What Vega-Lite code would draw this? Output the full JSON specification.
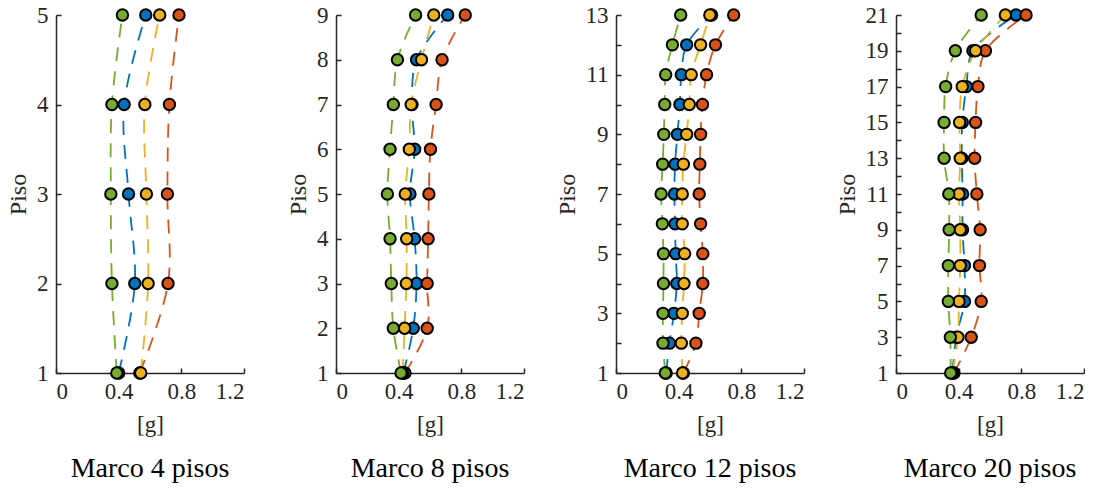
{
  "$schema": "https://vega.github.io/schema/vega-lite/v6.json",
  "background": "white",
  "padding": {"left": 6, "top": 4, "right": 0, "bottom": 0},
  "bounds": "flush",
  "spacing": 92,
  "config": {
    "view": {"stroke": null},
    "title": {"font": "Liberation Serif", "fontSize": 28, "fontWeight": "normal", "color": "black", "orient": "bottom", "offset": 19}
  },
  "data": {"values": [
    {"p": 4, "s": "s1", "piso": 1, "g": 0.40},
    {"p": 4, "s": "s1", "piso": 2, "g": 0.503},
    {"p": 4, "s": "s1", "piso": 3, "g": 0.463},
    {"p": 4, "s": "s1", "piso": 4, "g": 0.435},
    {"p": 4, "s": "s1", "piso": 5, "g": 0.573},
    {"p": 4, "s": "s2", "piso": 1, "g": 0.535},
    {"p": 4, "s": "s2", "piso": 2, "g": 0.715},
    {"p": 4, "s": "s2", "piso": 3, "g": 0.711},
    {"p": 4, "s": "s2", "piso": 4, "g": 0.724},
    {"p": 4, "s": "s2", "piso": 5, "g": 0.785},
    {"p": 4, "s": "s3", "piso": 1, "g": 0.541},
    {"p": 4, "s": "s3", "piso": 2, "g": 0.588},
    {"p": 4, "s": "s3", "piso": 3, "g": 0.577},
    {"p": 4, "s": "s3", "piso": 4, "g": 0.567},
    {"p": 4, "s": "s3", "piso": 5, "g": 0.662},
    {"p": 4, "s": "s4", "piso": 1, "g": 0.388},
    {"p": 4, "s": "s4", "piso": 2, "g": 0.357},
    {"p": 4, "s": "s4", "piso": 3, "g": 0.350},
    {"p": 4, "s": "s4", "piso": 4, "g": 0.357},
    {"p": 4, "s": "s4", "piso": 5, "g": 0.424},

    {"p": 8, "s": "s1", "piso": 1, "g": 0.43},
    {"p": 8, "s": "s1", "piso": 2, "g": 0.493},
    {"p": 8, "s": "s1", "piso": 3, "g": 0.514},
    {"p": 8, "s": "s1", "piso": 4, "g": 0.502},
    {"p": 8, "s": "s1", "piso": 5, "g": 0.472},
    {"p": 8, "s": "s1", "piso": 6, "g": 0.502},
    {"p": 8, "s": "s1", "piso": 7, "g": 0.485},
    {"p": 8, "s": "s1", "piso": 8, "g": 0.514},
    {"p": 8, "s": "s1", "piso": 9, "g": 0.713},
    {"p": 8, "s": "s2", "piso": 1, "g": 0.44},
    {"p": 8, "s": "s2", "piso": 2, "g": 0.582},
    {"p": 8, "s": "s2", "piso": 3, "g": 0.582},
    {"p": 8, "s": "s2", "piso": 4, "g": 0.588},
    {"p": 8, "s": "s2", "piso": 5, "g": 0.593},
    {"p": 8, "s": "s2", "piso": 6, "g": 0.603},
    {"p": 8, "s": "s2", "piso": 7, "g": 0.639},
    {"p": 8, "s": "s2", "piso": 8, "g": 0.677},
    {"p": 8, "s": "s2", "piso": 9, "g": 0.825},
    {"p": 8, "s": "s3", "piso": 1, "g": 0.425},
    {"p": 8, "s": "s3", "piso": 2, "g": 0.438},
    {"p": 8, "s": "s3", "piso": 3, "g": 0.449},
    {"p": 8, "s": "s3", "piso": 4, "g": 0.451},
    {"p": 8, "s": "s3", "piso": 5, "g": 0.442},
    {"p": 8, "s": "s3", "piso": 6, "g": 0.468},
    {"p": 8, "s": "s3", "piso": 7, "g": 0.480},
    {"p": 8, "s": "s3", "piso": 8, "g": 0.546},
    {"p": 8, "s": "s3", "piso": 9, "g": 0.624},
    {"p": 8, "s": "s4", "piso": 1, "g": 0.415},
    {"p": 8, "s": "s4", "piso": 2, "g": 0.366},
    {"p": 8, "s": "s4", "piso": 3, "g": 0.353},
    {"p": 8, "s": "s4", "piso": 4, "g": 0.345},
    {"p": 8, "s": "s4", "piso": 5, "g": 0.328},
    {"p": 8, "s": "s4", "piso": 6, "g": 0.345},
    {"p": 8, "s": "s4", "piso": 7, "g": 0.366},
    {"p": 8, "s": "s4", "piso": 8, "g": 0.392},
    {"p": 8, "s": "s4", "piso": 9, "g": 0.508},

    {"p": 12, "s": "s1", "piso": 1, "g": 0.32},
    {"p": 12, "s": "s1", "piso": 2, "g": 0.341},
    {"p": 12, "s": "s1", "piso": 3, "g": 0.370},
    {"p": 12, "s": "s1", "piso": 4, "g": 0.388},
    {"p": 12, "s": "s1", "piso": 5, "g": 0.381},
    {"p": 12, "s": "s1", "piso": 6, "g": 0.377},
    {"p": 12, "s": "s1", "piso": 7, "g": 0.373},
    {"p": 12, "s": "s1", "piso": 8, "g": 0.377},
    {"p": 12, "s": "s1", "piso": 9, "g": 0.392},
    {"p": 12, "s": "s1", "piso": 10, "g": 0.408},
    {"p": 12, "s": "s1", "piso": 11, "g": 0.417},
    {"p": 12, "s": "s1", "piso": 12, "g": 0.451},
    {"p": 12, "s": "s1", "piso": 13, "g": 0.61},
    {"p": 12, "s": "s2", "piso": 1, "g": 0.43},
    {"p": 12, "s": "s2", "piso": 2, "g": 0.510},
    {"p": 12, "s": "s2", "piso": 3, "g": 0.531},
    {"p": 12, "s": "s2", "piso": 4, "g": 0.554},
    {"p": 12, "s": "s2", "piso": 5, "g": 0.554},
    {"p": 12, "s": "s2", "piso": 6, "g": 0.540},
    {"p": 12, "s": "s2", "piso": 7, "g": 0.531},
    {"p": 12, "s": "s2", "piso": 8, "g": 0.535},
    {"p": 12, "s": "s2", "piso": 9, "g": 0.540},
    {"p": 12, "s": "s2", "piso": 10, "g": 0.552},
    {"p": 12, "s": "s2", "piso": 11, "g": 0.578},
    {"p": 12, "s": "s2", "piso": 12, "g": 0.635},
    {"p": 12, "s": "s2", "piso": 13, "g": 0.751},
    {"p": 12, "s": "s3", "piso": 1, "g": 0.425},
    {"p": 12, "s": "s3", "piso": 2, "g": 0.417},
    {"p": 12, "s": "s3", "piso": 3, "g": 0.423},
    {"p": 12, "s": "s3", "piso": 4, "g": 0.434},
    {"p": 12, "s": "s3", "piso": 5, "g": 0.438},
    {"p": 12, "s": "s3", "piso": 6, "g": 0.423},
    {"p": 12, "s": "s3", "piso": 7, "g": 0.423},
    {"p": 12, "s": "s3", "piso": 8, "g": 0.430},
    {"p": 12, "s": "s3", "piso": 9, "g": 0.451},
    {"p": 12, "s": "s3", "piso": 10, "g": 0.468},
    {"p": 12, "s": "s3", "piso": 11, "g": 0.480},
    {"p": 12, "s": "s3", "piso": 12, "g": 0.540},
    {"p": 12, "s": "s3", "piso": 13, "g": 0.599},
    {"p": 12, "s": "s4", "piso": 1, "g": 0.315},
    {"p": 12, "s": "s4", "piso": 2, "g": 0.300},
    {"p": 12, "s": "s4", "piso": 3, "g": 0.300},
    {"p": 12, "s": "s4", "piso": 4, "g": 0.303},
    {"p": 12, "s": "s4", "piso": 5, "g": 0.303},
    {"p": 12, "s": "s4", "piso": 6, "g": 0.296},
    {"p": 12, "s": "s4", "piso": 7, "g": 0.288},
    {"p": 12, "s": "s4", "piso": 8, "g": 0.298},
    {"p": 12, "s": "s4", "piso": 9, "g": 0.305},
    {"p": 12, "s": "s4", "piso": 10, "g": 0.311},
    {"p": 12, "s": "s4", "piso": 11, "g": 0.317},
    {"p": 12, "s": "s4", "piso": 12, "g": 0.360},
    {"p": 12, "s": "s4", "piso": 13, "g": 0.413},

    {"p": 20, "s": "s1", "piso": 1, "g": 0.36},
    {"p": 20, "s": "s1", "piso": 3, "g": 0.385},
    {"p": 20, "s": "s1", "piso": 5, "g": 0.437},
    {"p": 20, "s": "s1", "piso": 7, "g": 0.437},
    {"p": 20, "s": "s1", "piso": 9, "g": 0.425},
    {"p": 20, "s": "s1", "piso": 11, "g": 0.425},
    {"p": 20, "s": "s1", "piso": 13, "g": 0.42},
    {"p": 20, "s": "s1", "piso": 15, "g": 0.423},
    {"p": 20, "s": "s1", "piso": 17, "g": 0.449},
    {"p": 20, "s": "s1", "piso": 19, "g": 0.491},
    {"p": 20, "s": "s1", "piso": 21, "g": 0.766},
    {"p": 20, "s": "s2", "piso": 1, "g": 0.37},
    {"p": 20, "s": "s2", "piso": 3, "g": 0.480},
    {"p": 20, "s": "s2", "piso": 5, "g": 0.544},
    {"p": 20, "s": "s2", "piso": 7, "g": 0.533},
    {"p": 20, "s": "s2", "piso": 9, "g": 0.537},
    {"p": 20, "s": "s2", "piso": 11, "g": 0.516},
    {"p": 20, "s": "s2", "piso": 13, "g": 0.502},
    {"p": 20, "s": "s2", "piso": 15, "g": 0.508},
    {"p": 20, "s": "s2", "piso": 17, "g": 0.523},
    {"p": 20, "s": "s2", "piso": 19, "g": 0.571},
    {"p": 20, "s": "s2", "piso": 21, "g": 0.830},
    {"p": 20, "s": "s3", "piso": 1, "g": 0.36},
    {"p": 20, "s": "s3", "piso": 3, "g": 0.395},
    {"p": 20, "s": "s3", "piso": 5, "g": 0.402},
    {"p": 20, "s": "s3", "piso": 7, "g": 0.410},
    {"p": 20, "s": "s3", "piso": 9, "g": 0.410},
    {"p": 20, "s": "s3", "piso": 11, "g": 0.402},
    {"p": 20, "s": "s3", "piso": 13, "g": 0.410},
    {"p": 20, "s": "s3", "piso": 15, "g": 0.406},
    {"p": 20, "s": "s3", "piso": 17, "g": 0.423},
    {"p": 20, "s": "s3", "piso": 19, "g": 0.508},
    {"p": 20, "s": "s3", "piso": 21, "g": 0.698},
    {"p": 20, "s": "s4", "piso": 1, "g": 0.349},
    {"p": 20, "s": "s4", "piso": 3, "g": 0.347},
    {"p": 20, "s": "s4", "piso": 5, "g": 0.334},
    {"p": 20, "s": "s4", "piso": 7, "g": 0.334},
    {"p": 20, "s": "s4", "piso": 9, "g": 0.339},
    {"p": 20, "s": "s4", "piso": 11, "g": 0.337},
    {"p": 20, "s": "s4", "piso": 13, "g": 0.307},
    {"p": 20, "s": "s4", "piso": 15, "g": 0.307},
    {"p": 20, "s": "s4", "piso": 17, "g": 0.317},
    {"p": 20, "s": "s4", "piso": 19, "g": 0.379},
    {"p": 20, "s": "s4", "piso": 21, "g": 0.544}
  ]},
  "hconcat": [
    {
      "width": 188, "height": 358,
      "title": {"text": "Marco 4 pisos"},
      "transform": [{"filter": "datum.p == 4"}],
      "encoding": {
        "x": {"field": "g", "type": "quantitative", "scale": {"domain": [0, 1.2], "nice": false}, "axis": {"values": [0, 0.4, 0.8, 1.2], "format": ".1~f", "title": "[g]", "grid": false, "domainColor": "#262626", "domainWidth": 1.5, "tickColor": "#262626", "tickWidth": 1.5, "tickSize": -5, "labelFont": "Liberation Serif", "labelFontSize": 23, "labelColor": "#262626", "labelPadding": 12, "titleFont": "Liberation Serif", "titleFontSize": 23, "titleFontWeight": "normal", "titleColor": "#262626", "titlePadding": 10}},
        "y": {"field": "piso", "type": "quantitative", "scale": {"domain": [1, 5], "nice": false, "zero": false}, "axis": {"values": [1, 2, 3, 4, 5], "format": "d", "title": "Piso", "grid": false, "domainColor": "#262626", "domainWidth": 1.5, "tickColor": "#262626", "tickWidth": 1.5, "tickSize": -5, "labelFont": "Liberation Serif", "labelFontSize": 23, "labelColor": "#262626", "labelPadding": 13, "titleFont": "Liberation Serif", "titleFontSize": 24, "titleFontWeight": "normal", "titleColor": "#262626", "titlePadding": 6}},
        "color": {"field": "s", "type": "nominal", "scale": {"domain": ["s1", "s2", "s3", "s4"], "range": ["#0072BD", "#D95319", "#EDB120", "#77AC30"]}, "legend": null}
      },
      "layer": [
        {"mark": {"type": "line", "interpolate": "catmull-rom", "strokeDash": [14, 10], "strokeWidth": 1.8}, "encoding": {"order": {"field": "piso"}}},
        {"mark": {"type": "point", "filled": true, "size": 130, "stroke": "black", "strokeWidth": 2, "opacity": 1}}
      ]
    },
    {
      "width": 188, "height": 358,
      "title": {"text": "Marco 8 pisos"},
      "transform": [{"filter": "datum.p == 8"}],
      "encoding": {
        "x": {"field": "g", "type": "quantitative", "scale": {"domain": [0, 1.2], "nice": false}, "axis": {"values": [0, 0.4, 0.8, 1.2], "format": ".1~f", "title": "[g]", "grid": false, "domainColor": "#262626", "domainWidth": 1.5, "tickColor": "#262626", "tickWidth": 1.5, "tickSize": -5, "labelFont": "Liberation Serif", "labelFontSize": 23, "labelColor": "#262626", "labelPadding": 12, "titleFont": "Liberation Serif", "titleFontSize": 23, "titleFontWeight": "normal", "titleColor": "#262626", "titlePadding": 10}},
        "y": {"field": "piso", "type": "quantitative", "scale": {"domain": [1, 9], "nice": false, "zero": false}, "axis": {"values": [1, 2, 3, 4, 5, 6, 7, 8, 9], "format": "d", "title": "Piso", "grid": false, "domainColor": "#262626", "domainWidth": 1.5, "tickColor": "#262626", "tickWidth": 1.5, "tickSize": -5, "labelFont": "Liberation Serif", "labelFontSize": 23, "labelColor": "#262626", "labelPadding": 13, "titleFont": "Liberation Serif", "titleFontSize": 24, "titleFontWeight": "normal", "titleColor": "#262626", "titlePadding": 6}},
        "color": {"field": "s", "type": "nominal", "scale": {"domain": ["s1", "s2", "s3", "s4"], "range": ["#0072BD", "#D95319", "#EDB120", "#77AC30"]}, "legend": null}
      },
      "layer": [
        {"mark": {"type": "line", "interpolate": "catmull-rom", "strokeDash": [14, 10], "strokeWidth": 1.8}, "encoding": {"order": {"field": "piso"}}},
        {"mark": {"type": "point", "filled": true, "size": 130, "stroke": "black", "strokeWidth": 2, "opacity": 1}}
      ]
    },
    {
      "width": 188, "height": 358,
      "title": {"text": "Marco 12 pisos"},
      "transform": [{"filter": "datum.p == 12"}],
      "encoding": {
        "x": {"field": "g", "type": "quantitative", "scale": {"domain": [0, 1.2], "nice": false}, "axis": {"values": [0, 0.4, 0.8, 1.2], "format": ".1~f", "title": "[g]", "grid": false, "domainColor": "#262626", "domainWidth": 1.5, "tickColor": "#262626", "tickWidth": 1.5, "tickSize": -5, "labelFont": "Liberation Serif", "labelFontSize": 23, "labelColor": "#262626", "labelPadding": 12, "titleFont": "Liberation Serif", "titleFontSize": 23, "titleFontWeight": "normal", "titleColor": "#262626", "titlePadding": 10}},
        "y": {"field": "piso", "type": "quantitative", "scale": {"domain": [1, 13], "nice": false, "zero": false}, "axis": {"values": [1, 2, 3, 4, 5, 6, 7, 8, 9, 10, 11, 12, 13], "format": "d", "labelExpr": "datum.value % 2 == 1 ? datum.label : ''", "title": "Piso", "grid": false, "domainColor": "#262626", "domainWidth": 1.5, "tickColor": "#262626", "tickWidth": 1.5, "tickSize": -5, "labelFont": "Liberation Serif", "labelFontSize": 23, "labelColor": "#262626", "labelPadding": 13, "titleFont": "Liberation Serif", "titleFontSize": 24, "titleFontWeight": "normal", "titleColor": "#262626", "titlePadding": 6}},
        "color": {"field": "s", "type": "nominal", "scale": {"domain": ["s1", "s2", "s3", "s4"], "range": ["#0072BD", "#D95319", "#EDB120", "#77AC30"]}, "legend": null}
      },
      "layer": [
        {"mark": {"type": "line", "interpolate": "catmull-rom", "strokeDash": [14, 10], "strokeWidth": 1.8}, "encoding": {"order": {"field": "piso"}}},
        {"mark": {"type": "point", "filled": true, "size": 130, "stroke": "black", "strokeWidth": 2, "opacity": 1}}
      ]
    },
    {
      "width": 188, "height": 358,
      "title": {"text": "Marco 20 pisos"},
      "transform": [{"filter": "datum.p == 20"}],
      "encoding": {
        "x": {"field": "g", "type": "quantitative", "scale": {"domain": [0, 1.2], "nice": false}, "axis": {"values": [0, 0.4, 0.8, 1.2], "format": ".1~f", "title": "[g]", "grid": false, "domainColor": "#262626", "domainWidth": 1.5, "tickColor": "#262626", "tickWidth": 1.5, "tickSize": -5, "labelFont": "Liberation Serif", "labelFontSize": 23, "labelColor": "#262626", "labelPadding": 12, "titleFont": "Liberation Serif", "titleFontSize": 23, "titleFontWeight": "normal", "titleColor": "#262626", "titlePadding": 10}},
        "y": {"field": "piso", "type": "quantitative", "scale": {"domain": [1, 21], "nice": false, "zero": false}, "axis": {"values": [1, 2, 3, 4, 5, 6, 7, 8, 9, 10, 11, 12, 13, 14, 15, 16, 17, 18, 19, 20, 21], "format": "d", "labelExpr": "datum.value % 2 == 1 ? datum.label : ''", "title": "Piso", "grid": false, "domainColor": "#262626", "domainWidth": 1.5, "tickColor": "#262626", "tickWidth": 1.5, "tickSize": -5, "labelFont": "Liberation Serif", "labelFontSize": 23, "labelColor": "#262626", "labelPadding": 13, "titleFont": "Liberation Serif", "titleFontSize": 24, "titleFontWeight": "normal", "titleColor": "#262626", "titlePadding": 6}},
        "color": {"field": "s", "type": "nominal", "scale": {"domain": ["s1", "s2", "s3", "s4"], "range": ["#0072BD", "#D95319", "#EDB120", "#77AC30"]}, "legend": null}
      },
      "layer": [
        {"mark": {"type": "line", "interpolate": "catmull-rom", "strokeDash": [14, 10], "strokeWidth": 1.8}, "encoding": {"order": {"field": "piso"}}},
        {"mark": {"type": "point", "filled": true, "size": 130, "stroke": "black", "strokeWidth": 2, "opacity": 1}}
      ]
    }
  ]
}
